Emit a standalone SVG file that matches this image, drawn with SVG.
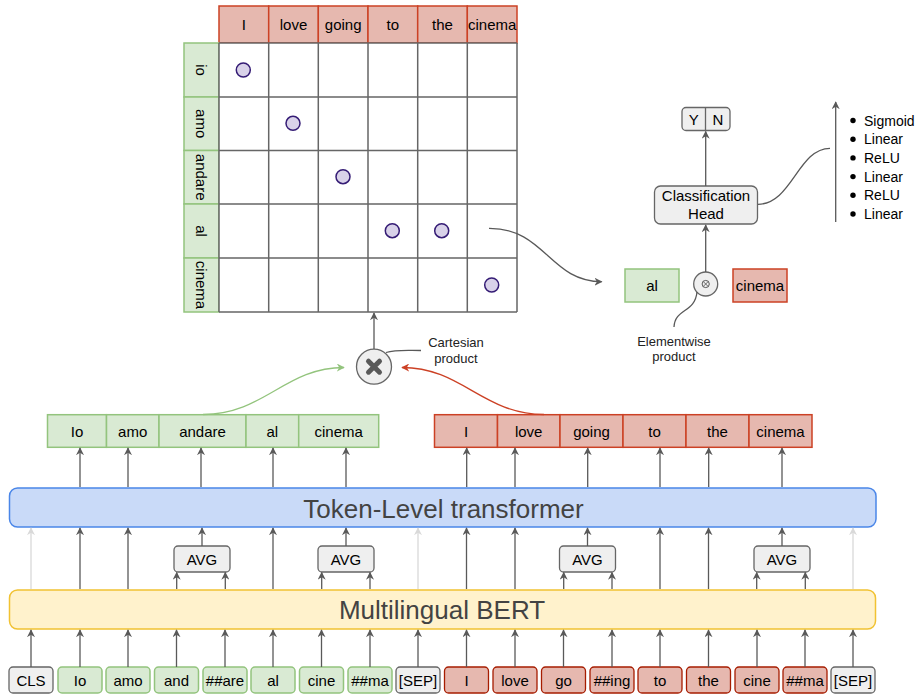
<svg xmlns="http://www.w3.org/2000/svg" width="920" height="696" viewBox="0 0 920 696">
<style>
text{font-family:"Liberation Sans",Arial,sans-serif;fill:#000}
.t14{font-size:15px;text-anchor:middle}
.t12{font-size:13px;text-anchor:middle;fill:#222}
.li{font-size:14px}
.big{font-size:26px;text-anchor:middle;fill:#434343}
.gb{fill:#d9ead3;stroke:#93c47d;stroke-width:1.5}
.rb{fill:#e6b8af;stroke:#cc4125;stroke-width:1.5}
.rb2{fill:#e6b8af;stroke:#a61c00;stroke-width:1.3}
.gy{fill:#efefef;stroke:#666;stroke-width:1.3}
.dot{fill:#d9d2e9;stroke:#351c75;stroke-width:1.5}
.a{fill:none;stroke:#595959;stroke-width:1.3;marker-end:url(#mg)}
.al{fill:none;stroke:#d9d9d9;stroke-width:1.3;marker-end:url(#ml)}
.ln{fill:none;stroke:#595959;stroke-width:1.3}
</style>
<defs>
<marker id="mg" viewBox="0 0 10 10" refX="9" refY="5" markerWidth="8" markerHeight="8" orient="auto" markerUnits="userSpaceOnUse"><path d="M0,0 L10,5 L0,10 L3,5 z" fill="#595959"/></marker>
<marker id="ml" viewBox="0 0 10 10" refX="9" refY="5" markerWidth="8" markerHeight="8" orient="auto" markerUnits="userSpaceOnUse"><path d="M0,0 L10,5 L0,10 L3,5 z" fill="#d9d9d9"/></marker>
<marker id="mgr" viewBox="0 0 10 10" refX="9" refY="5" markerWidth="8" markerHeight="8" orient="auto" markerUnits="userSpaceOnUse"><path d="M0,0 L10,5 L0,10 L3,5 z" fill="#93c47d"/></marker>
<marker id="mr" viewBox="0 0 10 10" refX="9" refY="5" markerWidth="8" markerHeight="8" orient="auto" markerUnits="userSpaceOnUse"><path d="M0,0 L10,5 L0,10 L3,5 z" fill="#cc4125"/></marker>
</defs>

<!-- Grid -->
<g id="grid">
<g id="grid-header">
<rect class="rb" x="219" y="6" width="49.7" height="37"/><text class="t14" x="243.8" y="30">I</text>
<rect class="rb" x="268.7" y="6" width="49.7" height="37"/><text class="t14" x="293.5" y="30">love</text>
<rect class="rb" x="318.3" y="6" width="49.7" height="37"/><text class="t14" x="343.2" y="30">going</text>
<rect class="rb" x="368" y="6" width="49.7" height="37"/><text class="t14" x="392.8" y="30">to</text>
<rect class="rb" x="417.7" y="6" width="49.7" height="37"/><text class="t14" x="442.5" y="30">the</text>
<rect class="rb" x="467.3" y="6" width="49.7" height="37"/><text class="t14" x="492.2" y="30">cinema</text>
</g>
<g id="grid-rows">
<rect class="gb" x="184" y="43" width="35" height="54"/><text class="t14" transform="translate(201.5,70) rotate(90)" y="5.5">io</text>
<rect class="gb" x="184" y="97" width="35" height="53.5"/><text class="t14" transform="translate(201.5,123.7) rotate(90)" y="5.5">amo</text>
<rect class="gb" x="184" y="150.5" width="35" height="53.5"/><text class="t14" transform="translate(201.5,177.2) rotate(90)" y="5.5">andare</text>
<rect class="gb" x="184" y="204" width="35" height="54"/><text class="t14" transform="translate(201.5,231) rotate(90)" y="5.5">al</text>
<rect class="gb" x="184" y="258" width="35" height="54"/><text class="t14" transform="translate(201.5,285) rotate(90)" y="5.5">cinema</text>
</g>
<g id="grid-cells">
<rect x="219" y="43" width="298" height="269" fill="#fff"/>
<path d="M219,43 H517 M219,97 H517 M219,150.5 H517 M219,204 H517 M219,258 H517 M219,312 H517 M219,43 V312 M268.7,43 V312 M318.3,43 V312 M368,43 V312 M417.7,43 V312 M467.3,43 V312 M517,43 V312" fill="none" stroke="#666" stroke-width="1.5"/>
<circle class="dot" cx="243.3" cy="70" r="7"/>
<circle class="dot" cx="293" cy="123.3" r="7"/>
<circle class="dot" cx="343" cy="176.7" r="7"/>
<circle class="dot" cx="392.3" cy="230.7" r="7"/>
<circle class="dot" cx="441.7" cy="230.7" r="7"/>
<circle class="dot" cx="491.7" cy="285" r="7"/>
</g>
</g>

<!-- Cartesian product -->
<g id="cartesian">
<circle cx="374" cy="366.7" r="17.5" fill="#efefef" stroke="#666" stroke-width="1.3"/>
<path d="M368.5,361.2 L379.5,372.2 M379.5,361.2 L368.5,372.2" stroke="#595959" stroke-width="5" stroke-linecap="round"/>
<text class="t12" x="456" y="347">Cartesian</text>
<text class="t12" x="456" y="363">product</text>
</g>

<!-- Right side -->
<g id="al-right"><rect class="gb" x="625" y="269" width="54" height="33"/><text class="t14" x="652" y="291">al</text></g>
<g id="cinema-right"><rect class="rb" x="733" y="269" width="54" height="33"/><text class="t14" x="760" y="291">cinema</text></g>
<g id="elementwise">
<circle cx="705.7" cy="284" r="12" fill="#efefef" stroke="#666" stroke-width="1.3"/>
<circle cx="705.7" cy="284" r="3.6" fill="none" stroke="#595959" stroke-width="1"/>
<path d="M703.2,281.5 L708.2,286.5 M708.2,281.5 L703.2,286.5" stroke="#595959" stroke-width="0.9"/>
<text class="t12" x="674" y="346">Elementwise</text>
<text class="t12" x="674" y="361">product</text>
</g>
<g id="class-head">
<rect class="gy" x="654.5" y="186" width="103" height="38" rx="6"/>
<text class="t14" x="706" y="200.5">Classification</text>
<text class="t14" x="706" y="219">Head</text>
</g>
<g id="yn">
<rect class="gy" x="682" y="107.5" width="48" height="23" rx="4"/>
<line x1="705.5" y1="107.5" x2="705.5" y2="130.5" stroke="#666" stroke-width="1.3"/>
<text class="t14" x="693.8" y="124.5">Y</text>
<text class="t14" x="718" y="124.5">N</text>
</g>
<g id="layers">
<circle cx="853" cy="120.5" r="2.7" fill="#000"/><text class="li" x="864" y="125.5">Sigmoid</text>
<circle cx="853" cy="139.2" r="2.7" fill="#000"/><text class="li" x="864" y="144.2">Linear</text>
<circle cx="853" cy="157.9" r="2.7" fill="#000"/><text class="li" x="864" y="162.9">ReLU</text>
<circle cx="853" cy="176.6" r="2.7" fill="#000"/><text class="li" x="864" y="181.6">Linear</text>
<circle cx="853" cy="195.3" r="2.7" fill="#000"/><text class="li" x="864" y="200.3">ReLU</text>
<circle cx="853" cy="214" r="2.7" fill="#000"/><text class="li" x="864" y="219">Linear</text>
</g>

<!-- Upper token rows -->
<g id="it-words">
<rect class="gb" x="47.5" y="414.7" width="59" height="32.6"/><text class="t14" x="77" y="436.5">Io</text>
<rect class="gb" x="106.5" y="414.7" width="52.5" height="32.6"/><text class="t14" x="132.7" y="436.5">amo</text>
<rect class="gb" x="159" y="414.7" width="87" height="32.6"/><text class="t14" x="202.5" y="436.5">andare</text>
<rect class="gb" x="246" y="414.7" width="52.7" height="32.6"/><text class="t14" x="272.3" y="436.5">al</text>
<rect class="gb" x="298.7" y="414.7" width="80" height="32.6"/><text class="t14" x="338.7" y="436.5">cinema</text>
</g>
<g id="en-words">
<rect class="rb" x="434.5" y="414.7" width="63" height="32.6"/><text class="t14" x="466" y="436.5">I</text>
<rect class="rb" x="497.5" y="414.7" width="62.5" height="32.6"/><text class="t14" x="528.7" y="436.5">love</text>
<rect class="rb" x="560" y="414.7" width="63" height="32.6"/><text class="t14" x="591.5" y="436.5">going</text>
<rect class="rb" x="623" y="414.7" width="63" height="32.6"/><text class="t14" x="654.5" y="436.5">to</text>
<rect class="rb" x="686" y="414.7" width="63" height="32.6"/><text class="t14" x="717.5" y="436.5">the</text>
<rect class="rb" x="749" y="414.7" width="63" height="32.6"/><text class="t14" x="780.5" y="436.5">cinema</text>
</g>

<!-- Transformer & BERT -->
<g id="transformer"><rect x="9.5" y="488" width="866.5" height="39" rx="8" fill="#c9daf8" stroke="#4a86e8" stroke-width="1.5"/><text class="big" x="443.5" y="518">Token-Level transformer</text></g>
<g id="bert"><rect x="9.5" y="590" width="866" height="39" rx="8" fill="#fff2cc" stroke="#f1c232" stroke-width="1.5"/><text class="big" x="442" y="619">Multilingual BERT</text></g>

<!-- AVG boxes -->
<g id="avg1"><rect class="gy" x="174" y="546" width="56" height="26" rx="4"/><text class="t14" x="202" y="564.5">AVG</text></g>
<g id="avg2"><rect class="gy" x="318" y="546" width="56" height="26" rx="4"/><text class="t14" x="346" y="564.5">AVG</text></g>
<g id="avg3"><rect class="gy" x="559.5" y="546" width="56" height="26" rx="4"/><text class="t14" x="587.5" y="564.5">AVG</text></g>
<g id="avg4"><rect class="gy" x="754" y="546" width="56" height="26" rx="4"/><text class="t14" x="782" y="564.5">AVG</text></g>

<!-- Bottom tokens -->
<g id="tokens">
<rect class="gy" x="9" y="667" width="44" height="26" rx="4"/><text class="t14" x="31" y="685.5">CLS</text>
<rect class="gb" x="58" y="667" width="44" height="26" rx="4"/><text class="t14" x="80" y="685.5">Io</text>
<rect class="gb" x="106" y="667" width="44" height="26" rx="4"/><text class="t14" x="128" y="685.5">amo</text>
<rect class="gb" x="154.5" y="667" width="44" height="26" rx="4"/><text class="t14" x="176.5" y="685.5">and</text>
<rect class="gb" x="203" y="667" width="44" height="26" rx="4"/><text class="t14" x="225" y="685.5">##are</text>
<rect class="gb" x="251" y="667" width="44" height="26" rx="4"/><text class="t14" x="273" y="685.5">al</text>
<rect class="gb" x="299.5" y="667" width="44" height="26" rx="4"/><text class="t14" x="321.5" y="685.5">cine</text>
<rect class="gb" x="348" y="667" width="44" height="26" rx="4"/><text class="t14" x="370" y="685.5">##ma</text>
<rect class="gy" x="396" y="667" width="44" height="26" rx="4"/><text class="t14" x="418" y="685.5">[SEP]</text>
<rect class="rb2" x="444.5" y="667" width="44" height="26" rx="4"/><text class="t14" x="466.5" y="685.5">I</text>
<rect class="rb2" x="493" y="667" width="44" height="26" rx="4"/><text class="t14" x="515" y="685.5">love</text>
<rect class="rb2" x="541.5" y="667" width="44" height="26" rx="4"/><text class="t14" x="563.5" y="685.5">go</text>
<rect class="rb2" x="590" y="667" width="44" height="26" rx="4"/><text class="t14" x="612" y="685.5">##ing</text>
<rect class="rb2" x="638" y="667" width="44" height="26" rx="4"/><text class="t14" x="660" y="685.5">to</text>
<rect class="rb2" x="686.5" y="667" width="44" height="26" rx="4"/><text class="t14" x="708.5" y="685.5">the</text>
<rect class="rb2" x="735" y="667" width="44" height="26" rx="4"/><text class="t14" x="757" y="685.5">cine</text>
<rect class="rb2" x="783" y="667" width="44" height="26" rx="4"/><text class="t14" x="805" y="685.5">##ma</text>
<rect class="gy" x="831" y="667" width="44" height="26" rx="4"/><text class="t14" x="853" y="685.5">[SEP]</text>
</g>

<!-- Connectors -->
<g id="connectors">
<path class="a" d="M31,667 V630"/><path class="a" d="M80,667 V630"/><path class="a" d="M128,667 V630"/><path class="a" d="M176.5,667 V630"/><path class="a" d="M225,667 V630"/><path class="a" d="M273,667 V630"/><path class="a" d="M321.5,667 V630"/><path class="a" d="M370,667 V630"/><path class="a" d="M418,667 V630"/><path class="a" d="M466.5,667 V630"/><path class="a" d="M515,667 V630"/><path class="a" d="M563.5,667 V630"/><path class="a" d="M612,667 V630"/><path class="a" d="M660,667 V630"/><path class="a" d="M708.5,667 V630"/><path class="a" d="M757,667 V630"/><path class="a" d="M805,667 V630"/><path class="a" d="M853,667 V630"/>
<path class="al" d="M31,589 V528"/><path class="al" d="M418,589 V528"/><path class="al" d="M853,589 V528"/>
<path class="a" d="M80,589 V528"/><path class="a" d="M128,589 V528"/><path class="a" d="M273,589 V528"/><path class="a" d="M466.5,589 V528"/><path class="a" d="M515,589 V528"/><path class="a" d="M660,589 V528"/><path class="a" d="M708.5,589 V528"/>
<path class="a" d="M176.7,589 V572.5"/><path class="a" d="M225.3,589 V572.5"/><path class="a" d="M321.7,589 V572.5"/><path class="a" d="M370,589 V572.5"/>
<path class="a" d="M563.7,589 V572.5"/><path class="a" d="M612,589 V572.5"/><path class="a" d="M756.7,589 V572.5"/><path class="a" d="M805.3,589 V572.5"/>
<path class="a" d="M202,546 V528"/><path class="a" d="M346,546 V528"/><path class="a" d="M587.5,546 V528"/><path class="a" d="M782,546 V528"/>
<path class="a" d="M80,487 V448"/><path class="a" d="M128,487 V448"/><path class="a" d="M201,487 V448"/><path class="a" d="M273,487 V448"/><path class="a" d="M346,487 V448"/>
<path class="a" d="M466.7,487 V448"/><path class="a" d="M515,487 V448"/><path class="a" d="M587.7,487 V448"/><path class="a" d="M660,487 V448"/><path class="a" d="M708.7,487 V448"/><path class="a" d="M782,487 V448"/>
<path d="M203,414.5 C265,414 285,367.5 344,367.5" fill="none" stroke="#93c47d" stroke-width="1.3" marker-end="url(#mgr)"/>
<path d="M544,414.5 C482,414 462,367.5 402,367.5" fill="none" stroke="#cc4125" stroke-width="1.3" marker-end="url(#mr)"/>
<path class="a" d="M374,349 V313"/>
<path class="ln" d="M386,352.5 C396,349.5 406,350.5 421,350.5"/>
<path class="a" d="M489,228.3 C545,228 550,281.7 601.7,281.7"/>
<path class="a" d="M705.7,272 V225"/>
<path class="ln" d="M697,292 C695,313 675,308 674,327"/>
<path class="a" d="M705.7,186 V131.5"/>
<path class="ln" d="M758,204.3 C792,204 798,148.3 830,148.3"/>
<path class="a" d="M835.7,222 V102"/>
</g>
</svg>
